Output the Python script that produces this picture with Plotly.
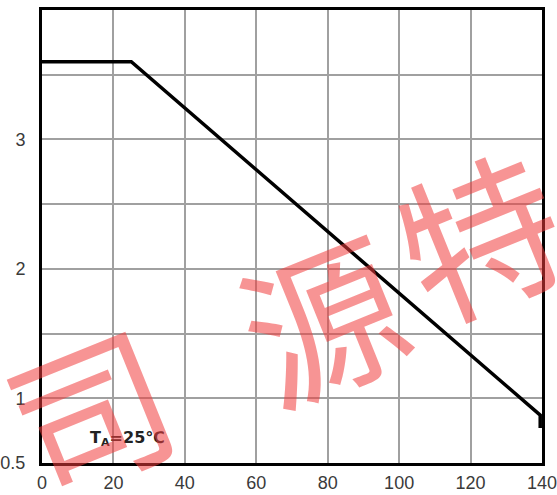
import plotly.graph_objects as go

# Data
temps = [0, 25, 139.5, 139.5]
values = [3.6, 3.6, 0.87, 0.77]

x_ticks = [0, 20, 40, 60, 80, 100, 120, 140]
x_labels = ["0", "20", "40", "60", "80", "100", "120", "140"]
y_ticks = [0.5, 1, 1.5, 2, 2.5, 3, 3.5, 4]
y_labels = ["0.5", "1", "", "2", "", "3", "", ""]

condition = "T<sub>A</sub>=25℃"
watermark_chars = ["司", "源", "特"]
watermark_pos = [(13, 0.95), (78, 1.65), (122, 2.3)]

fig = go.Figure()
fig.add_trace(go.Scatter(
    x=temps, y=values, mode="lines",
    line=dict(color="black", width=3.5),
    showlegend=False, hoverinfo="skip",
))

tick_font = dict(family="Liberation Sans, Arial, sans-serif", size=18, color="#3a3a3a")

fig.update_layout(
    width=557, height=495, autosize=False,
    margin=dict(l=42, r=15, t=10, b=32, autoexpand=False),
    paper_bgcolor="white", plot_bgcolor="white",
    xaxis=dict(
        range=[0, 140], tickmode="array", tickvals=x_ticks, ticktext=x_labels,
        showgrid=True, gridcolor="#a0a0a0", gridwidth=1.5,
        showline=True, linecolor="black", linewidth=3, mirror=True,
        ticks="", tickfont=tick_font, zeroline=False, ticklabelstandoff=1,
        automargin=False, ticklabeloverflow="allow",
    ),
    yaxis=dict(
        range=[0.5, 4], tickmode="array", tickvals=y_ticks, ticktext=y_labels,
        showgrid=True, gridcolor="#a0a0a0", gridwidth=1.5,
        showline=True, linecolor="black", linewidth=3, mirror=True,
        ticks="", tickfont=tick_font, zeroline=False, ticklabelstandoff=10,
        automargin=False, ticklabeloverflow="allow",
    ),
)

fig.add_annotation(
    x=13, y=0.69, xref="x", yref="y", text="<b>" + condition + "</b>",
    showarrow=False, xanchor="left", yanchor="middle",
    font=dict(family="DejaVu Sans, sans-serif", size=16, color="#222"),
)

for ch, (wx, wy) in zip(watermark_chars, watermark_pos):
    fig.add_annotation(
        x=wx, y=wy, xref="x", yref="y", text=ch, showarrow=False,
        textangle=-22,
        font=dict(family="Noto Sans CJK SC", size=160, color="rgba(240,60,60,0.55)"),
    )

fig.write_html(
    "out.html",
    config={"displayModeBar": False},
    post_script="document.body.style.margin='0';document.body.style.overflow='hidden';",
)
